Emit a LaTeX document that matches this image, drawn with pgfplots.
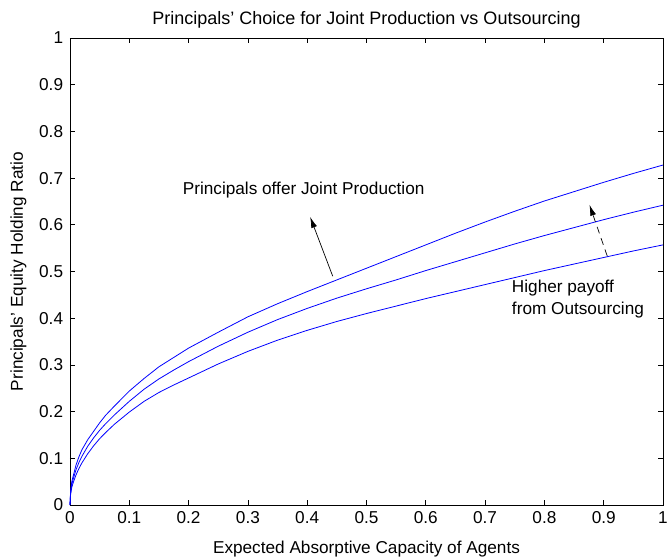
\documentclass[border=0pt]{standalone}
\usepackage{pgfplots}
\pgfplotsset{compat=1.18}
\usepackage{fontspec}
\setmainfont{Liberation Sans}
\usetikzlibrary{arrows.meta}
\pgfplotstableread{
x      top    mid    bot
0      0      0      0
0.001  0.030  0.026  0.022
0.003  0.050  0.044  0.038
0.006  0.065  0.058  0.050
0.01   0.085  0.075  0.064
0.015  0.103  0.091  0.078
0.02   0.118  0.104  0.090
0.03   0.140  0.126  0.110
0.04   0.158  0.144  0.127
0.05   0.176  0.160  0.142
0.06   0.192  0.174  0.155
0.075  0.212  0.193  0.173
0.1    0.244  0.222  0.199
0.125  0.271  0.248  0.222
0.15   0.296  0.270  0.241
0.175  0.316  0.289  0.257
0.2    0.336  0.307  0.272
0.25   0.370  0.340  0.302
0.3    0.403  0.370  0.329
0.35   0.431  0.397  0.353
0.4    0.457  0.421  0.374
0.45   0.482  0.443  0.393
0.5    0.507  0.463  0.410
0.55   0.532  0.482  0.426
0.6    0.557  0.502  0.442
0.65   0.582  0.521  0.457
0.7    0.606  0.540  0.472
0.75   0.629  0.559  0.487
0.8    0.651  0.577  0.502
0.85   0.671  0.594  0.516
0.9    0.691  0.611  0.530
0.95   0.710  0.627  0.544
1.0    0.728  0.642  0.557
}\curves
\begin{document}
\fontsize{17.2}{20}\selectfont
\begin{tikzpicture}
\begin{axis}[
  name=ax,
  scale only axis,
  width=593pt, height=467pt,
  xmin=0, xmax=1, ymin=0, ymax=1,
  xtick={0,0.1,...,1.0}, ytick={0,0.1,...,1.0},
  xticklabels={0,0.1,0.2,0.3,0.4,0.5,0.6,0.7,0.8,0.9,1},
  yticklabels={0,0.1,0.2,0.3,0.4,0.5,0.6,0.7,0.8,0.9,1},
  tick align=inside,
  major tick length=5pt,
  tick style={black, line width=0.8pt},
  axis line style={black, line width=0.8pt},
  ticklabel style={font=\fontsize{17.2}{20}\selectfont},
  xticklabel style={yshift=-1pt},
  yticklabel style={xshift=-1pt},
  label style={font=\fontsize{17.2}{20}\selectfont},
  title style={font=\fontsize{18}{21}\selectfont, yshift=-2pt},
  title={Principals' Choice for Joint Production vs Outsourcing},
  xlabel={Expected Absorptive Capacity of Agents},
  ylabel={Principals' Equity Holding Ratio},
  xlabel style={yshift=-5pt},
  ylabel style={yshift=1pt},
  clip=false,
]
\addplot[blue, line width=0.8pt, no markers] table[x=x, y=top] {\curves};
\addplot[blue, line width=0.8pt, no markers] table[x=x, y=mid] {\curves};
\addplot[blue, line width=0.8pt, no markers] table[x=x, y=bot] {\curves};
\node[anchor=west, inner sep=0pt] at (axis cs:0.19,0.675) {Principals offer Joint Production};
\draw[-{Latex[length=11pt,width=6pt]}, line width=0.7pt] (axis cs:0.443,0.49) -- (axis cs:0.405,0.617);
\draw[-{Latex[length=11pt,width=6pt]}, line width=0.7pt, dash pattern=on 7pt off 5pt] (axis cs:0.906,0.533) -- (axis cs:0.876,0.643);
\node[anchor=west, align=left, inner sep=0pt, font=\fontsize{17.2}{22}\selectfont] at (axis cs:0.745,0.44) {Higher payoff\\from Outsourcing};
\end{axis}
\pgfresetboundingbox
\path ([xshift=-70pt,yshift=-53pt]ax.south west) rectangle ([xshift=5pt,yshift=38pt]ax.north east);
\end{tikzpicture}
\end{document}
